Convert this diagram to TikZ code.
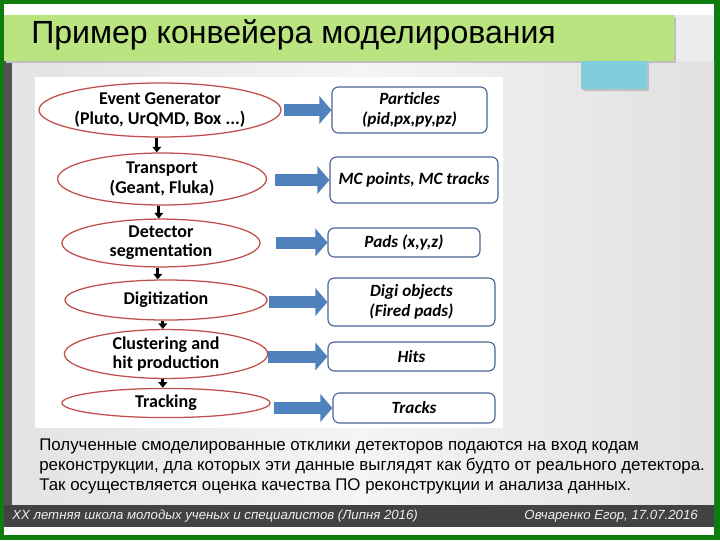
\documentclass[tikz,border=0pt]{standalone}
\usepackage{fontspec}
\setmainfont{Liberation Sans}
\newfontfamily\calibri{Carlito}
\usetikzlibrary{shapes.geometric,arrows.meta}
\definecolor{ramka}{RGB}{14,124,14}
\definecolor{zagolovok}{RGB}{186,228,128}
\definecolor{goluboj}{RGB}{128,205,222}
\definecolor{fon}{RGB}{236,236,236}
\definecolor{podval}{RGB}{66,66,66}
\definecolor{krasnyj}{RGB}{192,80,77}
\definecolor{sinij}{RGB}{79,129,189}
\definecolor{sinijtemn}{RGB}{72,100,145}

\begin{document}
\begin{tikzpicture}[
    x=0.025cm, y=-0.025cm,
    etap/.style={ellipse, draw=krasnyj, line width=0.9pt, fill=white,
      inner sep=0pt, align=center, font=\calibri\bfseries\fontsize{12.8}{13.6}\selectfont},
    rezultat/.style={rectangle, rounded corners=0.16cm, draw=sinijtemn, line width=0.8pt,
      fill=white, inner sep=0pt, align=center,
      font=\calibri\bfseries\itshape\fontsize{12.2}{14.4}\selectfont},
    perehod/.style={line width=2.2pt, -{Triangle[length=0.14cm, width=0.22cm]}},
    vyhod/.style={line width=0.3cm, draw=sinij, -{Triangle[length=0.3cm, width=0.68cm]}},
    podpis/.style={anchor=base west, inner sep=0pt, text=white!94!black,
      font=\itshape\fontsize{9.4}{11}\selectfont}
  ]
  \useasboundingbox (0,0) rectangle (720,540);

  % --- rama i fon slajda ---
  \fill[ramka] (0,0) rectangle (720,540);
  \fill[white] (4,4) rectangle (714,535);
  \fill[fon] (4,15) rectangle (714,505);
  \shade[left color=black!11, right color=black!12, middle color=black!4]
    (12,61) rectangle (714,505);
  \fill[black!68] (4,61) rectangle (12,505);
  \fill[podval] (4,505) rectangle (714,527);

  % --- zagolovok ---
  \fill[black!25] (6,17) rectangle (676,63);
  \fill[zagolovok] (4,15) rectangle (674,61);
  \fill[black!25] (583,61) rectangle (649,91);
  \fill[goluboj] (581,61) rectangle (647,89);
  \node[anchor=base west, inner sep=0pt, font=\fontsize{22.8}{26}\selectfont]
    (titul) at (31,43) {Пример конвейера моделирования};

  % --- belaja podlozhka shemy ---
  \fill[white] (35,77) rectangle (503,428);

  % --- etapy modelirovanija ---
  \foreach \n/\x/\y/\w/\h/\tekst in {
      1/160/110/5.75/1.35/{Event Generator\\(Pluto, UrQMD, Box ...)},
      2/162/179/5.22/1.30/{Transport\\(Geant, Fluka)},
      3/161/243/4.95/1.08/{Detector\\segmentation},
      4/166/300/5.05/1.00/{Digitization},
      5/166/354/5.08/1.05/{Clustering and\\hit production},
      6/166/403/5.20/0.73/{Tracking}}{
    \node[etap, minimum width=\w cm, minimum height=\h cm] (e\n) at (\x,\y) {\tekst};
  }

  % --- dannye na vyhode ---
  \foreach \n/\x/\y/\w/\h/\tekst in {
      1/409.5/110/3.875/1.15/{Particles\\(pid,px,py,pz)},
      2/414/180/4.20/1.15/{MC points, MC tracks},
      3/404/242.5/3.80/0.725/{Pads (x,y,z)},
      4/411.5/302/4.175/1.20/{Digi objects\\(Fired pads)},
      5/411.5/356.5/4.175/0.725/{Hits},
      6/414/408/4.05/0.75/{Tracks}}{
    \node[rezultat, minimum width=\w cm, minimum height=\h cm] (d\n) at (\x,\y) {\tekst};
  }

  % --- strelki ---
  \foreach \a/\b in {1/2, 2/3, 3/4, 4/5, 5/6}{
    \draw[perehod] ([xshift=-0.08cm]e\a.south) -- ([xshift=-0.08cm]e\a.south |- e\b.north);
  }
  \foreach \n/\zazor in {1/2, 2/8, 3/15, 4/1, 5/0, 6/3}{
    \draw[vyhod, shorten <={\zazor*0.025cm}] (e\n.east |- d\n.west) -- (d\n.west);
  }

  % --- poyasnenie ---
  \node[anchor=base west, inner sep=0pt, align=left,
    font=\fontsize{12}{13.9}\selectfont] (tekst) at (39,490)
    {Полученные смоделированные отклики детекторов подаются на вход кодам\\
     реконструкции, дла которых эти данные выглядят как будто от реального детектора.\\
     Так осуществляется оценка качества ПО реконструкции и анализа данных.};

  % --- podval ---
  \node[podpis] (shkola) at (12,519)
    {XX летняя школа молодых ученых и специалистов (Липня 2016)};
  \node[podpis, anchor=base east] (avtor) at (698,519) {Овчаренко Егор, 17.07.2016};
\end{tikzpicture}
\end{document}
